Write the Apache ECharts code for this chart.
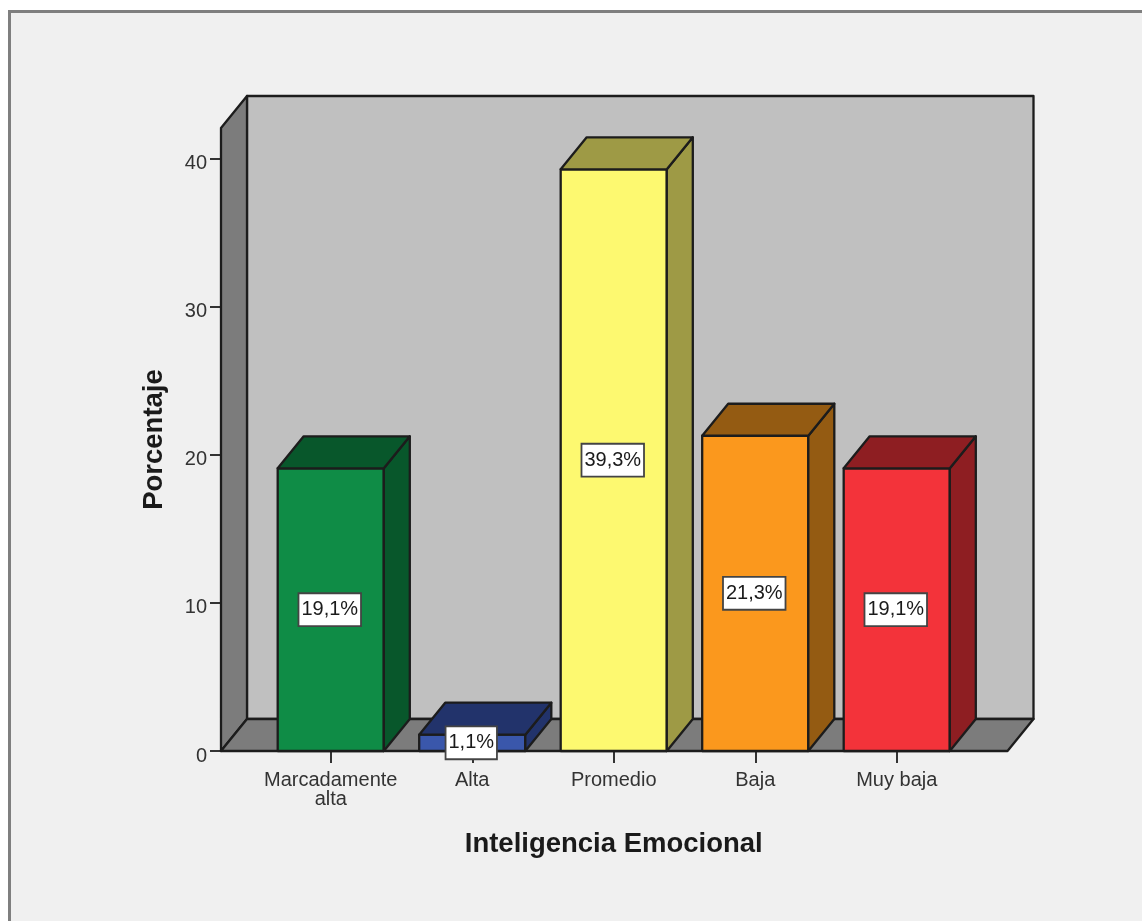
<!DOCTYPE html>
<html><head><meta charset="utf-8">
<style>html,body{margin:0;padding:0;background:#fff}#c{width:1142px;height:921px}</style>
<script src="https://cdn.jsdelivr.net/npm/echarts@6/dist/echarts.min.js"></script>
</head><body><div id="c"></div>
<script>
const categories = ['Marcadamente\nalta','Alta','Promedio','Baja','Muy baja'];
const percentages = [19.1,1.1,39.3,21.3,19.1];
const labels = ['19,1%','1,1%','39,3%','21,3%','19,1%'];
const frontColors = ['#0f8c46','#3a57ab','#fdf970','#fb981d','#f3333a'];
const shadeColors = ['#08572b','#22336b','#9e9a45','#945b12','#8e1e22'];
const yTicks = [0,10,20,30,40];
const DX = 26, DY = 32, LINE = '#1c1c1c', LW = 2.3;
const WALL_LEFT = 39, WALL_RIGHT = 40;
const font = '"Liberation Sans", Arial, sans-serif';

function poly(points, fill){
  return {type:'polygon', shape:{points}, style:{fill, stroke:LINE, lineWidth:LW, lineJoin:'round'}};
}
const chart = echarts.init(document.getElementById('c'), null, {renderer:'canvas'});
chart.setOption({
  animation:false,
  backgroundColor:'#ffffff',
  graphic:[{type:'rect', z:-10, silent:true, shape:{x:9.5,y:11.5,width:1300,height:1100},
    style:{fill:'#f0f0f0', stroke:'#7f7f7f', lineWidth:3}}],
  grid:{left:260, width:707.5, top:128, height:623},
  xAxis:{type:'category', data:categories,
    axisLine:{show:false},
    axisTick:{show:true, alignWithLabel:true, length:12, lineStyle:{color:'#333', width:2}},
    axisLabel:{interval:0, color:'#333', fontFamily:font, fontSize:20, lineHeight:19, margin:20},
    name:'Inteligencia Emocional', nameLocation:'middle', nameGap:79,
    nameTextStyle:{fontFamily:font, fontWeight:'bold', fontSize:27.5, color:'#1a1a1a'}
  },
  yAxis:{type:'value', min:0, max:42.09, offset:39,
    splitLine:{show:false}, axisLine:{show:false},
    axisTick:{show:true, length:11, customValues:yTicks, lineStyle:{color:'#333', width:2}},
    axisLabel:{customValues:yTicks, color:'#333', fontFamily:font, fontSize:20, margin:14, verticalAlign:'top', lineHeight:10},
    name:'Porcentaje', nameLocation:'middle', nameGap:53,
    nameTextStyle:{fontFamily:font, fontWeight:'bold', fontSize:27.5, color:'#1a1a1a'}
  },
  series:[
    {type:'custom', z:1, silent:true, data:[[0,0]], renderItem(params, api){
      const g = params.coordSys;
      const L = g.x-WALL_LEFT, R = g.x+g.width+WALL_RIGHT, T = g.y, B = g.y+g.height;
      return {type:'group', children:[
        poly([[L+DX,T-DY],[R+DX,T-DY],[R+DX,B-DY],[L+DX,B-DY]],'#c0c0c0'),
        poly([[L,T],[L+DX,T-DY],[L+DX,B-DY],[L,B]],'#7c7c7c'),
        poly([[L,B],[L+DX,B-DY],[R+DX,B-DY],[R,B]],'#7c7c7c')
      ]};
    }},
    {type:'custom', z:2, silent:true, encode:{x:0,y:1},
      data:percentages.map((v,i)=>[i,v]),
      renderItem(params, api){
        const i = api.value(0), w = api.size([1,0])[0]*0.75;
        const base = api.coord([i,0]), top = api.coord([i,api.value(1)]);
        const l = base[0]-w/2, r = base[0]+w/2, t = top[1], b = base[1];
        return {type:'group', children:[
          poly([[l,t],[r,t],[r,b],[l,b]], frontColors[i]),
          poly([[r,t],[r+DX,t-DY],[r+DX,b-DY],[r,b]], shadeColors[i]),
          poly([[l,t],[l+DX,t-DY],[r+DX,t-DY],[r,t]], shadeColors[i])
        ]};
      }},
    {type:'custom', z:5, silent:true, encode:{x:0,y:1},
      data:percentages.map((v,i)=>[i,v]),
      renderItem(params, api){
        const i = api.value(0);
        const c = api.coord([i,api.value(1)/2]);
        return {type:'text', style:{text:labels[i], x:c[0]-1, y:c[1], align:'center', verticalAlign:'middle',
          fill:'#1a1a1a', font:'20px '+font, backgroundColor:'#ffffff', borderColor:'#444', borderWidth:1.8,
          padding:[6,2,5,2]}};
      }}
  ]
});
</script></body></html>
